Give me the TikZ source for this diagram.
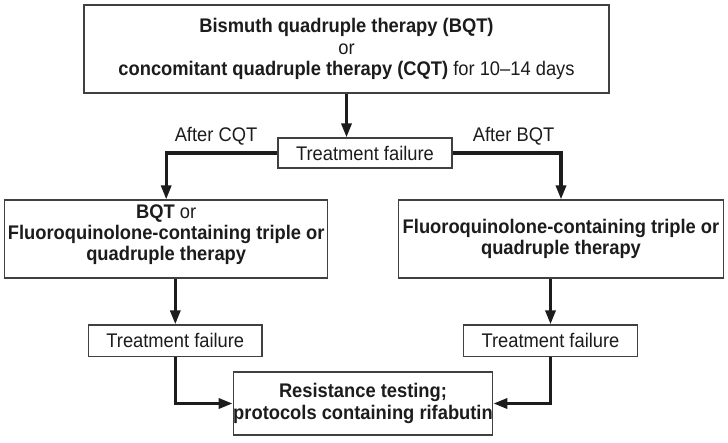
\documentclass[tikz,border=0pt]{standalone}
\usepackage{fontspec}
\setmainfont{Liberation Sans}[FakeStretch=0.93]
\usetikzlibrary{arrows.meta}
\definecolor{ink}{HTML}{1C1C1C}
\definecolor{edge}{HTML}{404040}
\begin{document}
\begin{tikzpicture}[x=1pt,y=-1pt,
  box/.style={draw=edge, line width=1.2pt, fill=white, text=ink, align=center, inner sep=0pt,
    font=\fontsize{19.7}{21}\selectfont},
  conn/.style={draw=ink, line width=3.2pt, -{Triangle[length=14pt,width=10pt]}},
  lab/.style={text=ink, inner sep=0pt, font=\fontsize{19.7}{21}\selectfont}
]
\useasboundingbox (0,0) rectangle (728,442);

\node[box, line width=1.5pt, minimum width=525pt, minimum height=88pt, font=\fontsize{19.7}{21.5}\selectfont] (top) at (346.5,49)
  {\textbf{Bismuth quadruple therapy (BQT)}\\ or\\ \textbf{concomitant quadruple therapy (CQT)} for 10--14 days};

\node[box, minimum width=174pt, minimum height=30pt] (tf1) at (365,153) {Treatment failure};

\node[lab, anchor=base] (acqt) at (216,141) {After CQT};
\node[lab, anchor=base] (abqt) at (513.5,141) {After BQT};

\node[box, minimum width=323pt, minimum height=78pt] (lbox) at (166.2,239)
  {\textbf{BQT} or\\ \textbf{Fluoroquinolone-containing triple or}\\ \textbf{quadruple therapy}\rule[-12pt]{0pt}{12pt}};

\node[box, minimum width=325pt, minimum height=78pt] (rbox) at (561,239)
  {\textbf{Fluoroquinolone-containing triple or}\\ \textbf{quadruple therapy}};

\node[box, minimum width=173.4pt, minimum height=31.7pt] (tf2l) at (175.3,340.8) {Treatment failure};
\node[box, minimum width=173.4pt, minimum height=31.7pt] (tf2r) at (550.5,340.8) {Treatment failure};

\node[box, minimum width=259pt, minimum height=63pt, font=\fontsize{19.7}{22}\selectfont] (res) at (363,403.5)
  {\textbf{Resistance testing;}\\ \textbf{protocols containing rifabutin}};

\draw[conn] (top.south) -- (top.south |- tf1.north);
\draw[conn] (tf1.west) -| (lbox.north);
\draw[conn] (tf1.east) -| (rbox.north);
\draw[conn] (tf2l.north |- lbox.south) -- (tf2l.north);
\draw[conn] (tf2r.north |- rbox.south) -- (tf2r.north);
\draw[conn] (tf2l.south) |- (res.west);
\draw[conn] (tf2r.south) |- (res.east);
\end{tikzpicture}
\end{document}
